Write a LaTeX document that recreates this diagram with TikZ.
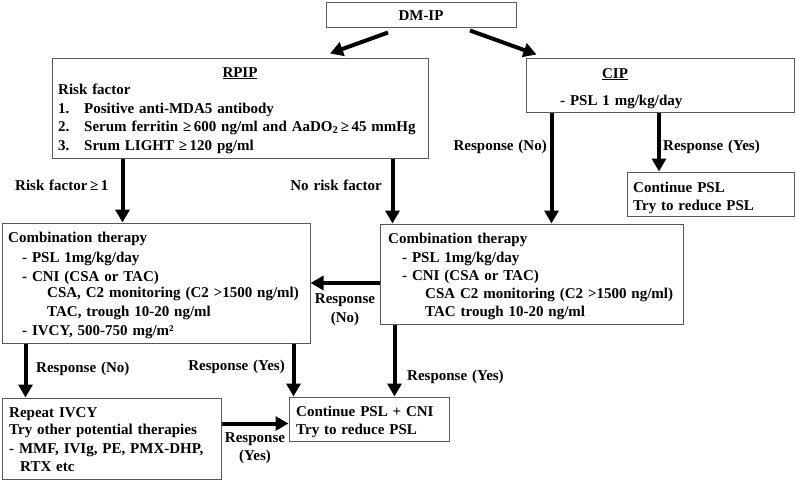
\documentclass[tikz,border=0pt]{standalone}
\usepackage{fontspec}
\setmainfont{Liberation Serif}[WordSpace=1.3]
\usetikzlibrary{arrows.meta,calc,fit}
\tikzset{
  box/.style={draw=black!65, line width=1pt, inner sep=0pt, rectangle},
  txt/.style={anchor=base west, inner sep=0pt, font=\fontsize{15}{18}\selectfont\bfseries},
  txtr/.style={txt, anchor=base east},
  txtc/.style={txt, anchor=base},
  arr/.style={line width=4pt, -{Triangle[length=13pt,width=14pt]}},
}
\begin{document}
\begin{tikzpicture}[x=1pt,y=-1pt]
\useasboundingbox (0,0) rectangle (796,482);
% boxes
\node[box, fit={(326,2) (516,27)}] (dmip) {};
\node[box, fit={(52,58) (428,158)}] (rpip) {};
\node[box, fit={(526,58) (794,112)}] (cip) {};
\node[box, fit={(627,172) (794,216)}] (contpsl) {};
\node[box, fit={(2,223) (310,343)}] (combL) {};
\node[box, fit={(380,224) (683,324)}] (combR) {};
\node[box, fit={(2,398) (221,479)}] (repeat) {};
\node[box, fit={(289,397) (449,441)}] (contcni) {};
% texts
\node[txtc] (tdm) at (421,20) {DM-IP};
\node[txtc] (trp) at (240,77) {\underline{RPIP}};
\node[txt] (trf) at (58,94) {Risk factor};
\node[txt] (tn1) at (58,113) {1.};
\node[txt] (tr1) at (84,113) {Positive anti-MDA5 antibody};
\node[txt] (tn2) at (58,131) {2.};
\node[txt] (tr2) at (84,131) {Serum ferritin ≥\,600 ng/ml and AaDO\textsubscript{2}\,≥\,45 mmHg};
\node[txt] (tn3) at (58,150) {3.};
\node[txt] (tr3) at (84,150) {Srum LIGHT ≥\,120 pg/ml};
\node[txtc] (tcip) at (615,78) {\underline{CIP}};
\node[txt] (tcp) at (560,105) {- PSL 1 mg/kg/day};
\node[txt] (tcon1) at (633,192) {Continue PSL};
\node[txt] (tcon2) at (633,210) {Try to reduce PSL};
\node[txtr] (lno1) at (547,150) {Response (No)};
\node[txt] (lyes1) at (663,150) {Response (Yes)};
\node[txt] (lrf) at (15,190) {Risk factor\,≥\,1};
\node[txtr] (lnrf) at (382,190) {No risk factor};
% combination left
\node[txt] (cl1) at (8,242) {Combination therapy};
\node[txt] (cl2) at (22,262) {- PSL 1mg/kg/day};
\node[txt] (cl3) at (22,281) {- CNI (CSA or TAC)};
\node[txt] (cl4) at (47,297) {CSA, C2 monitoring (C2 >1500 ng/ml)};
\node[txt] (cl5) at (47,316) {TAC, trough 10-20 ng/ml};
\node[txt] (cl6) at (22,335) {- IVCY, 500-750 mg/m²};
% combination right
\node[txt] (cr1) at (388,243) {Combination therapy};
\node[txt] (cr2) at (402,262) {- PSL 1mg/kg/day};
\node[txt] (cr3) at (402,280) {- CNI (CSA or TAC)};
\node[txt] (cr4) at (425,298) {CSA C2 monitoring (C2 >1500 ng/ml)};
\node[txt] (cr5) at (425,316) {TAC trough 10-20 ng/ml};
% mid label
\node[txtc] (lrn1) at (345,303) {Response};
\node[txtc] (lrn2) at (345,322) {(No)};
\node[txt] (lno2) at (36,372) {Response (No)};
\node[txtr] (lyes2) at (285,370) {Response (Yes)};
\node[txt] (lyes3) at (407,380) {Response (Yes)};
% repeat
\node[txt] (rp1) at (9,417) {Repeat IVCY};
\node[txt] (rp2) at (9,434) {Try other potential therapies};
\node[txt] (rp3) at (9,453) {- MMF, IVIg, PE, PMX-DHP,};
\node[txt] (rp4) at (20,471) {RTX etc};
% continue cni
\node[txt] (cc1) at (296,416) {Continue PSL + CNI};
\node[txt] (cc2) at (296,434) {Try to reduce PSL};
\node[txtc] (lry1) at (255,442) {Response};
\node[txtc] (lry2) at (255,460) {(Yes)};
% arrows
\draw[arr] ($(dmip.south)+(-33,5)$) -- ($(rpip.north)+(90,-4)$);
\draw[arr] ($(dmip.south)+(49,3)$) -- ($(cip.north west)+(11,-3)$);
\draw[arr] ($(cip.south)+(-1,0)$) coordinate (a1) -- (a1 |- contpsl.north);
\draw[arr] ($(cip.south west)+(26,0)$) coordinate (a2) -- (a2 |- combR.north);
\draw[arr] ($(rpip.south west)+(71,0)$) coordinate (a3) -- (a3 |- combL.north);
\draw[arr] ($(rpip.south east)+(-36,0)$) coordinate (a4) -- (a4 |- combR.north);
\draw[arr] ($(combR.west)+(0,9)$) coordinate (a5) -- (a5 -| combL.east);
\draw[arr] ($(combL.south west)+(24,0)$) coordinate (a6) -- (a6 |- repeat.north);
\draw[arr] ($(combL.south east)+(-17,0)$) coordinate (a7) -- (a7 |- contcni.north);
\draw[arr] ($(combR.south west)+(15,0)$) coordinate (a8) -- (a8 |- contcni.north);
\draw[arr] ($(repeat.east)+(0,-15)$) coordinate (a9) -- (a9 -| contcni.west);
\end{tikzpicture}
\end{document}
